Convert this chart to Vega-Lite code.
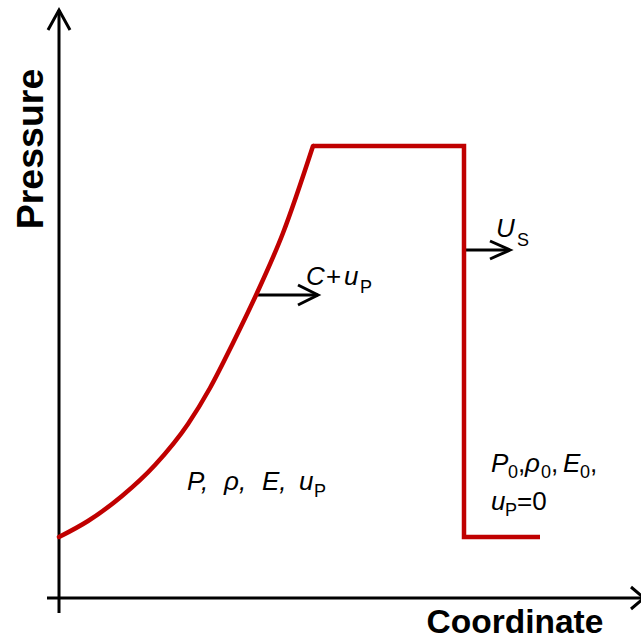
{
  "$schema": "https://vega.github.io/schema/vega-lite/v6.json",
  "width": 641,
  "height": 640,
  "padding": 0,
  "autosize": {"type": "none"},
  "config": {"view": {"stroke": null}, "font": "Liberation Sans"},
  "datasets": {
    "rarefaction": [
      {"x": 0, "y": 61},
      {"x": 29, "y": 77},
      {"x": 63, "y": 102},
      {"x": 96, "y": 133},
      {"x": 129, "y": 174},
      {"x": 151, "y": 210},
      {"x": 174, "y": 255},
      {"x": 198, "y": 305},
      {"x": 224, "y": 365},
      {"x": 254, "y": 452}
    ],
    "shock": [
      {"seq": 1, "x": 254, "y": 452},
      {"seq": 2, "x": 405, "y": 452},
      {"seq": 3, "x": 405, "y": 61},
      {"seq": 4, "x": 481, "y": 61}
    ],
    "arrows": [
      {"arrow": "pressure axis", "seq": 1, "x": 0, "y": -15},
      {"arrow": "pressure axis", "seq": 2, "x": 0, "y": 588},
      {"arrow": "pressure head", "seq": 1, "x": -11, "y": 568},
      {"arrow": "pressure head", "seq": 2, "x": 0, "y": 588},
      {"arrow": "pressure head", "seq": 3, "x": 11, "y": 568},
      {"arrow": "coordinate axis", "seq": 1, "x": -12, "y": 0},
      {"arrow": "coordinate axis", "seq": 2, "x": 585, "y": 0},
      {"arrow": "coordinate head", "seq": 1, "x": 572, "y": 11},
      {"arrow": "coordinate head", "seq": 2, "x": 585, "y": 0},
      {"arrow": "coordinate head", "seq": 3, "x": 572, "y": -11},
      {"arrow": "wave shaft", "seq": 1, "x": 199, "y": 303},
      {"arrow": "wave shaft", "seq": 2, "x": 259, "y": 303},
      {"arrow": "wave head", "seq": 1, "x": 239, "y": 313},
      {"arrow": "wave head", "seq": 2, "x": 259, "y": 303},
      {"arrow": "wave head", "seq": 3, "x": 239, "y": 293},
      {"arrow": "shock shaft", "seq": 1, "x": 406, "y": 348},
      {"arrow": "shock shaft", "seq": 2, "x": 451, "y": 348},
      {"arrow": "shock head", "seq": 1, "x": 431, "y": 357},
      {"arrow": "shock head", "seq": 2, "x": 451, "y": 348},
      {"arrow": "shock head", "seq": 3, "x": 431, "y": 339}
    ],
    "symbols": [
      {"text": "C", "x": 247, "y": 313},
      {"text": "u", "x": 285, "y": 313},
      {"text": "U", "x": 437, "y": 361},
      {"text": "P,", "x": 128, "y": 108},
      {"text": "ρ,", "x": 165, "y": 108},
      {"text": "E,", "x": 203, "y": 108},
      {"text": "u", "x": 240, "y": 108},
      {"text": "P", "x": 432, "y": 126},
      {"text": "ρ", "x": 466, "y": 126},
      {"text": "E", "x": 504, "y": 126},
      {"text": "u", "x": 432, "y": 88}
    ],
    "operators": [
      {"text": "+", "x": 267, "y": 313},
      {"text": ",", "x": 459, "y": 126},
      {"text": ",", "x": 492, "y": 126},
      {"text": ",", "x": 531, "y": 126},
      {"text": "=0", "x": 458, "y": 88}
    ],
    "subscripts": [
      {"text": "P", "x": 301, "y": 305},
      {"text": "S", "x": 458, "y": 352},
      {"text": "P", "x": 255, "y": 101},
      {"text": "0", "x": 449, "y": 120},
      {"text": "0", "x": 482, "y": 120},
      {"text": "0", "x": 521, "y": 120},
      {"text": "P", "x": 446, "y": 82}
    ],
    "verticalTitle": [
      {"text": "Pressure", "x": -16, "y": 449}
    ],
    "horizontalTitle": [
      {"text": "Coordinate", "x": 456, "y": -35}
    ]
  },
  "encoding": {
    "x": {"field": "x", "type": "quantitative", "axis": null,
          "scale": {"domain": [-59, 582], "nice": false, "zero": false}},
    "y": {"field": "y", "type": "quantitative", "axis": null,
          "scale": {"domain": [-42, 598], "nice": false, "zero": false}}
  },
  "layer": [
    {
      "data": {"name": "arrows"},
      "mark": {"type": "line", "color": "black", "strokeWidth": 3, "strokeJoin": "miter", "strokeCap": "butt"},
      "encoding": {
        "detail": {"field": "arrow"},
        "order": {"field": "seq", "type": "quantitative"}
      }
    },
    {
      "data": {"name": "rarefaction"},
      "mark": {"type": "line", "color": "#C00000", "strokeWidth": 4.5, "interpolate": "monotone", "strokeCap": "round"},
      "encoding": {}
    },
    {
      "data": {"name": "shock"},
      "mark": {"type": "line", "color": "#C00000", "strokeWidth": 4.5, "strokeJoin": "miter", "strokeCap": "butt"},
      "encoding": {"order": {"field": "seq", "type": "quantitative"}}
    },
    {
      "data": {"name": "symbols"},
      "mark": {"type": "text", "fontSize": 26, "fontStyle": "italic", "align": "left", "baseline": "alphabetic", "color": "black"},
      "encoding": {"text": {"field": "text"}}
    },
    {
      "data": {"name": "operators"},
      "mark": {"type": "text", "fontSize": 26, "align": "left", "baseline": "alphabetic", "color": "black"},
      "encoding": {"text": {"field": "text"}}
    },
    {
      "data": {"name": "subscripts"},
      "mark": {"type": "text", "fontSize": 18, "align": "left", "baseline": "alphabetic", "color": "black"},
      "encoding": {"text": {"field": "text"}}
    },
    {
      "data": {"name": "verticalTitle"},
      "mark": {"type": "text", "fontSize": 37.5, "fontWeight": "bold", "align": "center", "baseline": "alphabetic", "angle": 270, "color": "black"},
      "encoding": {"text": {"field": "text"}}
    },
    {
      "data": {"name": "horizontalTitle"},
      "mark": {"type": "text", "fontSize": 33.5, "fontWeight": "bold", "align": "center", "baseline": "alphabetic", "color": "black"},
      "encoding": {"text": {"field": "text"}}
    }
  ]
}
